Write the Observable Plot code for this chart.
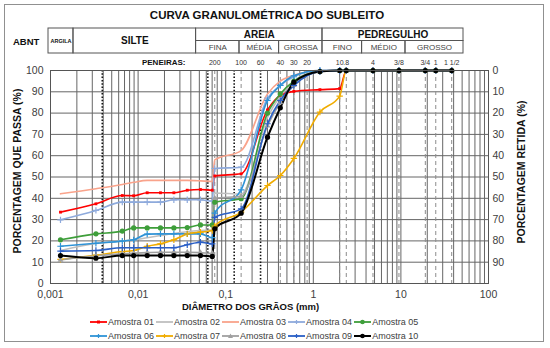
<!DOCTYPE html>
<html><head><meta charset="utf-8">
<script src="https://cdn.jsdelivr.net/npm/d3@7"></script>
<script src="https://cdn.jsdelivr.net/npm/@observablehq/plot@0.6"></script>
<style>
body{margin:0;background:#fff;font-family:"Liberation Sans",Arial,sans-serif;}
#wrap{position:relative;width:550px;height:348px;overflow:hidden;background:#fff;}
.abs{position:absolute;}
#wrap svg{position:absolute;left:0;top:0;}
.leg{position:absolute;left:90px;display:flex;gap:2px;font-size:9px;color:#404040;line-height:12px;}
.item{display:flex;align-items:center;gap:1px;white-space:nowrap;}
</style></head><body><div id="wrap"></div>
<script>
// ---------- data ----------
const samples = ["Amostra 01","Amostra 02","Amostra 03","Amostra 04","Amostra 05","Amostra 06","Amostra 07","Amostra 08","Amostra 09","Amostra 10"];
const colors  = ["#ff0000","#bfbfbf","#f9a38b","#8eaadc","#3e9e3a","#2f93d6","#f0ac00","#a0a0a0","#2a5fc6","#000000"];
const markers = ["square", null, null, "plus", "circle", "plus", "plus", "triangle", "plus", "circle"];

// diameters (mm): sedimentation, then sieves
const hydroD = [0.0013, 0.0033, 0.0066, 0.0089, 0.0127, 0.018, 0.0256, 0.0364, 0.0515, 0.0703];
const sieveD = [0.075, 0.15, 0.3, 0.42, 0.6, 1.19, 2.0, 2.38, 4.8, 9.5, 19, 25, 38];

// percent passing, hydrometer part
const h01 = [33.5, 37.4, 41.3, 41.2, 42.6, 42.6, 42.6, 43.8, 44.1, 43.8];
const h02 = [15.5, 18.8, 20.0, 20.5, 21.5, 22.5, 23.5, 24.3, 24.9, 25.0];
const h03 = [42.1, 44.5, 46.5, 47.5, 48.4, 48.4, 48.4, 48.4, 48.2, 47.9];
const h04 = [29.9, 34.3, 38.2, 38.2, 38.2, 38.2, 39.3, 39.3, 39.3, 38.7];
const h05 = [20.5, 23.3, 24.6, 26.1, 26.1, 26.1, 26.1, 26.3, 27.5, 27.5];
const h06 = [17.5, 18.9, 19.9, 20.5, 23.2, 23.3, 23.3, 23.3, 23.3, 21.5];
const h07 = [11.3, 13.3, 15.0, 15.5, 17.5, 18.6, 20.5, 23.3, 24.1, 24.9];
const h08 = [11.0, 13.0, 13.9, 14.2, 14.5, 14.7, 14.7, 14.7, 14.5, 14.1];
const h09 = [15.2, 15.5, 16.8, 16.8, 16.8, 16.8, 16.8, 18.2, 19.4, 18.6];
const h10 = [13.1, 11.9, 13.1, 13.1, 13.1, 13.1, 13.1, 13.1, 13.1, 12.7];
// percent passing, sieve part
const s01 = [50.5, 51.5, 81.5, 88.3, 90.2, 91.0, 91.5, 100, 100, 100, 100, 100, 100];
const s02 = [42.5, 42.0, 78.0, 88.0, 95.0, 100, 100, 100, 100, 100, 100, 100, 100];
const s03 = [58.0, 62.4, 89.0, 95.0, 97.8, 100, 100, 100, 100, 100, 100, 100, 100];
const s04 = [54.0, 54.6, 87.0, 93.0, 97.0, 100, 100, 100, 100, 100, 100, 100, 100];
const s05 = [38.2, 39.8, 80.0, 89.0, 95.0, 99.5, 100, 100, 100, 100, 100, 100, 100];
const s06 = [33.0, 44.0, 86.0, 93.0, 97.5, 100, 100, 100, 100, 100, 100, 100, 100];
const s07 = [27.0, 33.5, 46.0, 50.7, 58.7, 80.5, 88.0, 100, 100, 100, 100, 100, 100];
const s08 = [40.0, 41.0, 74.0, 85.0, 93.0, 99.5, 100, 100, 100, 100, 100, 100, 100];
const s09 = [31.0, 35.0, 75.0, 86.0, 93.0, 99.5, 100, 100, 100, 100, 100, 100, 100];
const s10 = [25.7, 33.0, 68.7, 82.5, 94.5, 99.5, 100, 100, 100, 100, 100, 100, 100];
const hydro = [h01,h02,h03,h04,h05,h06,h07,h08,h09,h10];
const sieve = [s01,s02,s03,s04,s05,s06,s07,s08,s09,s10];

// sieve labels on top
const sieveLabels = ["200","100","60","40","30","20","10",".8","4","3/8","3/4","1","1 1/2"];
const sieveLabelD = [0.075, 0.15, 0.25, 0.42, 0.6, 0.85, 2.0, 2.38, 4.8, 9.5, 19, 25, 38];
const dottedD = [0.0039, 0.0625, 0.125, 0.25];

// ABNT classes
const classNames  = ["ARGILA","SILTE","AREIA","PEDREGULHO"];
const classBounds = [0.001, 0.002, 0.06, 2, 100];
const classRows   = [2, 2, 1, 1];   // rows spanned
const subNames  = ["FINA","MÉDIA","GROSSA","FINO","MÉDIO","GROSSO"];
const subBounds = [0.06, 0.2, 0.6, 2, 6, 20, 100];

const xTicks = [0.001, 0.01, 0.1, 1, 10, 100];
const yTicks = [0,10,20,30,40,50,60,70,80,90,100];
const yTicksRight = [10,20,30,40,50,60,70,80,90,100];

// ---------- build ----------
const allD = hydroD.concat(sieveD);
const rows = samples.flatMap((s,i) => hydro[i].concat(sieve[i]).map((p,j) => ({sample:s, idx:i, d:allD[j], p})));
const gridD = [0.001,0.01,0.1,1,10].flatMap(k => [1,2,3,4,5,6,7,8,9].map(m => +(m*k).toPrecision(3))).concat([100]);
const sieveLineD = sieveLabelD.filter(d => d !== 0.25);
const FONT = "'Liberation Sans', Arial, sans-serif";
const fmt = d => String(d).replace(".", ",");

const wrap = document.getElementById("wrap");

const lineMarks = samples.map((s,i) => Plot.line(rows.filter(r => r.idx===i), {
  x:"d", y:"p", stroke: colors[i], strokeWidth: i===9 ? 2 : 1.6, curve:"monotone-x"
}));
const dotMarks = samples.map((s,i) => {
  const m = markers[i];
  if (!m) return null;
  const data = rows.filter(r => r.idx===i);
  if (m === "plus") return Plot.dot(data, {x:"d", y:"p", symbol:"plus", r:2.2, stroke: colors[i], strokeWidth:1.2});
  return Plot.dot(data, {x:"d", y:"p", symbol:m, r: m==="circle" ? 2.6 : (m==="square" ? 1.6 : 2.2), fill: colors[i], stroke:"none"});
}).filter(Boolean);

const main = Plot.plot({
  width: 550, height: 310,
  marginLeft: 50, marginRight: 62, marginTop: 70, marginBottom: 27,
  style: {fontFamily: FONT, background: "transparent", overflow: "visible"},
  x: {type: "log", domain: [0.001, 100]},
  y: {domain: [0, 100]},
  marks: [
    Plot.ruleX(gridD, {stroke:"#666", strokeWidth:1}),
    Plot.ruleY(yTicks, {stroke:"#666", strokeWidth:1}),
    Plot.ruleX(sieveLineD, {stroke:"#8c8c8c", strokeWidth:1, strokeDasharray:"4,3"}),
    Plot.ruleX(dottedD, {stroke:"#111", strokeWidth:1.6, strokeDasharray:"1.5,1.8"}),
    ...lineMarks,
    ...dotMarks,
    Plot.frame({stroke:"#555"}),
    Plot.axisY({anchor:"left", ticks:yTicks, tickSize:0, tickPadding:7, label:null, fontSize:10.5, color:"#404040"}),
    Plot.axisY({anchor:"right", ticks:yTicksRight, tickFormat:d => 100-d, tickSize:0, tickPadding:4, label:null, fontSize:10.5, color:"#404040"}),
    Plot.axisX({anchor:"bottom", ticks:xTicks, tickFormat:fmt, tickSize:0, tickPadding:7, label:null, fontSize:10.5, color:"#404040"}),
    Plot.text(sieveLabels, {x:(d,i) => sieveLabelD[i], frameAnchor:"top", dy:-8, text:d => d, lineAnchor:"middle", fontSize:7, fill:"#333"}),
    Plot.text(["PENEIRAS:"], {frameAnchor:"top-left", dx:135, dy:-8, textAnchor:"end", lineAnchor:"middle", fontSize:8, fontWeight:"bold", fill:"#111"}),
    Plot.text(["PORCENTAGEM QUE PASSA (%)"], {frameAnchor:"left", textAnchor:"middle", lineAnchor:"middle", rotate:-90, dx:-33, dy:-6, fontSize:10.5, fontWeight:"bold", fill:"#111"}),
    Plot.text(["PORCENTAGEM RETIDA (%)"], {frameAnchor:"right", textAnchor:"middle", lineAnchor:"middle", rotate:-90, dx:33, dy:-5, fontSize:10.5, fontWeight:"bold", fill:"#111"}),
    Plot.text(["DIÂMETRO DOS GRÃOS (mm)"], {frameAnchor:"bottom", textAnchor:"middle", dx:-19, dy:23, lineAnchor:"middle", fontSize:9.5, fontWeight:"bold", fill:"#111"})
  ]
});
wrap.appendChild(main);

// header (ABNT classification table)
const classData = classNames.map((n,i) => ({n, x1:classBounds[i], x2:classBounds[i+1], rows:classRows[i]}));
const subData = subNames.map((n,i) => ({n, x1:subBounds[i], x2:subBounds[i+1]}));
const header = Plot.plot({
  width: 550, height: 70,
  style: {fontFamily: FONT, background: "transparent", overflow: "visible"},
  x: {type:"log", domain:[0.001, 100], range:[48, 463], axis:null},
  y: {domain:[0, 2], range:[28, 53], axis:null},
  marks: [
    Plot.rect(classData, {x1:"x1", x2:"x2", y1:() => 0, y2:d => d.rows, fill:"none", stroke:"#555", strokeWidth:1}),
    Plot.rect(subData, {x1:"x1", x2:"x2", y1:() => 1, y2:() => 2, fill:"none", stroke:"#555", strokeWidth:1}),
    Plot.text(classData, {x:d => Math.sqrt(d.x1*d.x2), y:d => d.rows/2, text:"n", fontWeight:"bold",
      fontSize:d => d.n === "ARGILA" ? 5.5 : 10, fill:"#111"}),
    Plot.text(subData, {x:d => Math.sqrt(d.x1*d.x2), y:() => 1.5, text:"n", fontSize:8, fill:"#444"})
  ]
});
wrap.appendChild(header);

// HTML titles
const title = document.createElement("div");
title.className = "abs";
title.style.cssText = "left:0;width:534px;top:9px;text-align:center;font-weight:bold;font-size:11.5px;color:#111;";
title.textContent = "CURVA GRANULOMÉTRICA DO SUBLEITO";
wrap.appendChild(title);
const abnt = document.createElement("div");
abnt.className = "abs";
abnt.style.cssText = "left:13px;top:36px;font-weight:bold;font-size:9.5px;color:#111;";
abnt.textContent = "ABNT";
wrap.appendChild(abnt);

// legend
[[0,5],[5,10]].forEach(([a,b], r) => {
  const row = document.createElement("div");
  row.className = "leg";
  row.style.top = (316 + r*14) + "px";
  for (let i=a; i<b; i++) {
    const it = document.createElement("div");
    it.className = "item";
    const m = markers[i];
    let mk = "";
    if (m === "circle") mk = `<circle cx="8.5" cy="4" r="2.3" fill="${colors[i]}"/>`;
    else if (m === "square") mk = `<rect x="7" y="2.5" width="3" height="3" fill="${colors[i]}"/>`;
    else if (m === "triangle") mk = `<path d="M8.5,1.6L11,6H6Z" fill="${colors[i]}"/>`;
    else if (m === "plus") mk = `<path d="M6.5,4H10.5M8.5,2V6" stroke="${colors[i]}" stroke-width="1.2"/>`;
    it.innerHTML = `<svg width="17" height="8" style="position:static"><line x1="0" y1="4" x2="17" y2="4" stroke="${colors[i]}" stroke-width="${i===9?2:1.8}"/>${mk}</svg><span>${samples[i]}</span>`;
    row.appendChild(it);
  }
  wrap.appendChild(row);
});

// outer border
const border = document.createElement("div");
border.className = "abs";
border.style.cssText = "left:4px;top:4px;width:538px;height:336px;border:1.5px solid #909090;pointer-events:none;";
wrap.appendChild(border);
</script></body></html>
